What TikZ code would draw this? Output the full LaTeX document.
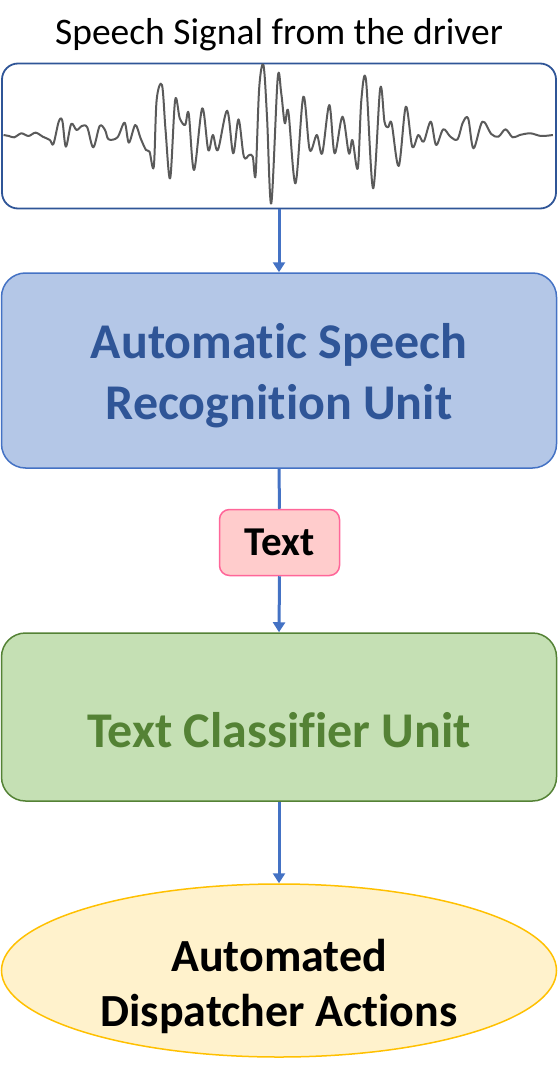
\documentclass[tikz,border=0pt]{standalone}
\usepackage{fontspec}
\setmainfont{Carlito}[Ligatures={NoCommon}]
\usetikzlibrary{arrows.meta,shapes.geometric}
\definecolor{darkblue}{HTML}{2F5597}
\definecolor{midblue}{HTML}{4472C4}
\definecolor{asrfill}{HTML}{B4C7E7}
\definecolor{pinkfill}{HTML}{FFCCCC}
\definecolor{pinkline}{HTML}{FF6699}
\definecolor{greenfill}{HTML}{C5E0B4}
\definecolor{greenline}{HTML}{548235}
\definecolor{yellowfill}{HTML}{FFF2CC}
\definecolor{yellowline}{HTML}{FFC000}
\definecolor{wavegray}{HTML}{5A5A5A}
\tikzset{
  unit/.style={draw, line width=1.5pt, rounded corners=24pt, minimum width=555pt},
  unittext/.style={align=center, font=\fontsize{50}{61}\selectfont\bfseries},
  conn/.style={draw=midblue, line width=3pt},
  arr/.style={conn, -{Triangle[width=12pt,length=10pt]}},
}
\begin{document}
\begin{tikzpicture}[x=1pt,y=-1pt]
\useasboundingbox (0,0) rectangle (558,1083);
\node[font=\fontsize{37.5}{40}\selectfont, anchor=base, inner sep=0pt] (title) at (279,45) {Speech Signal from the driver};
\node[draw=darkblue, line width=1.8pt, rounded corners=16pt, minimum width=554pt, minimum height=145pt, inner sep=0pt] (wave) at (279,136) {};
\begin{scope}[shift={(0pt,-50pt)}, x=0.356pt, y=-1pt/3]
\draw[wavegray, line width=2pt, line join=round] plot[smooth, tension=0.55] coordinates {
(10,255)(25,258)(40,262)(60,250)(80,258)(100,248)(120,260)(140,270)(150,282)(165,215)(175,212)(185,290)(200,222)(215,240)(230,228)(245,232)(262,292)(280,228)(295,240)(305,268)(330,262)(350,218)(362,278)(380,225)(395,265)(410,300)(420,305)(432,350)(440,150)(455,105)(465,240)(478,385)(492,150)(505,205)(520,225)(530,190)(545,360)(568,175)(585,300)(598,255)(612,300)(638,182)(655,310)(670,208)(685,320)(700,315)(710,320)(718,375)(728,115)(740,45)(750,200)(762,460)(780,85)(790,130)(800,220)(810,185)(830,400)(852,140)(870,300)(890,255)(905,310)(925,165)(940,310)(962,200)(980,310)(990,270)(1005,355)(1015,150)(1028,90)(1048,415)(1068,115)(1080,215)(1090,232)(1100,220)(1120,348)(1140,170)(1158,290)(1175,255)(1190,275)(1210,215)(1225,285)(1245,238)(1265,260)(1285,268)(1300,218)(1315,205)(1330,295)(1355,215)(1380,252)(1400,260)(1420,238)(1440,262)(1460,255)(1490,250)(1520,258)(1553,255)};
\end{scope}
\node[unit, draw=midblue, fill=asrfill, minimum height=195pt] (asr) at (279,370.5) {};
\node[unittext, text=darkblue] (asrtext) at (279,376) {Automatic Speech\\Recognition Unit};
\node[draw=pinkline, fill=pinkfill, line width=1.5pt, rounded corners=10pt, minimum width=120pt, minimum height=66pt, font=\fontsize{41}{46}\selectfont\bfseries] (txt) at (279.5,542.5) {Text};
\node[unit, draw=greenline, fill=greenfill, minimum height=168pt] (tcu) at (279,717) {};
\node[unittext, text=greenline] (tcutext) at (279,730) {Text Classifier Unit};
\node[ellipse, draw=yellowline, fill=yellowfill, line width=1.5pt, minimum width=555pt, minimum height=173pt] (act) at (279,970.5) {};
\node[align=center, font=\fontsize{46}{55}\selectfont\bfseries] (acttext) at (279,986) {Automated\\Dispatcher Actions};
\draw[arr] (wave.south) -- (asr.north);
\draw[conn] (asr.south) -- (txt.north);
\draw[arr] (txt.south) -- (tcu.north);
\draw[arr] (tcu.south) -- (act.north);
\end{tikzpicture}
\end{document}
